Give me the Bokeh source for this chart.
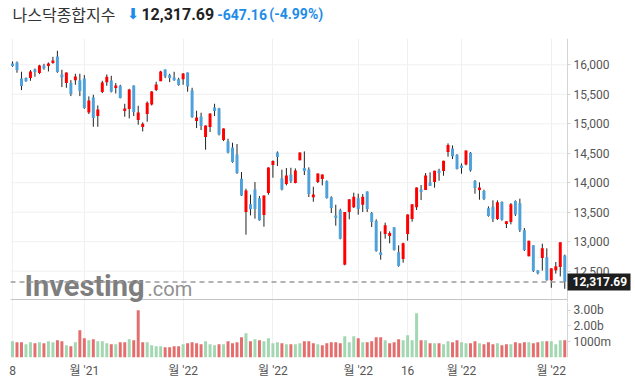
from bokeh.plotting import figure
from bokeh.layouts import column
from bokeh.models import ColumnDataSource, Range1d, FixedTicker, NumeralTickFormatter
from bokeh.core.properties import value
from bokeh.embed import file_html
from bokeh.resources import INLINE

# ---------------- data ----------------
title_text = "나스닥종합지수"
last_price_text = "12,317.69"
change_text = "-647.16"
change_pct_text = "(-4.99%)"
last_price = 12317.69

x_tick_idx = [0, 16, 38, 58, 77, 88, 100, 120]
x_tick_labels = ["8", "월 '21", "월 '22", "월 '22", "월 '22", "16", "월 '22", "월 '22"]
price_ticks = [12500, 13000, 13500, 14000, 14500, 15000, 15500, 16000]
vol_ticks = [1000, 2000, 3000]
vol_tick_labels = ["1000m", "2.00b", "3.00b"]

opens = [16023, 16040, 15769, 15774, 15774, 15921, 15859, 15989, 15978, 16029,
         16142, 15836, 15690, 15690, 15740, 15740, 15769, 15192, 15447, 15130,
         15537, 15706, 15735, 15605, 15644, 15215, 15249, 15650, 15062, 14944,
         15164, 15328, 15571, 15723, 15921, 15825, 15786, 15757, 15757, 15870,
         15565, 15045, 15125, 14774, 14944, 15277, 15260, 14723, 14701, 14599,
         14480, 14068, 13503, 13633, 13887, 13735, 13452, 13825, 14300, 14514,
         14074, 13978, 14141, 13995, 14379, 14249, 14226, 13752, 14011, 14062,
         14023, 13752, 13446, 13531, 12610, 13503, 13582, 13735, 13627, 13853,
         13486, 13350, 12819, 13130, 13096, 13243, 12819, 12706, 13130, 13384,
         13582, 13887, 13876, 14006, 14011, 14209, 14198, 14520, 14582, 14469,
         14294, 14311, 14509, 14028, 13876, 13859, 13565, 13593, 13384, 13672,
         13300, 13333, 13689, 13650, 13192, 12752, 12938, 12514, 12723, 12735,
         12345, 12514, 12571, 12766]
highs = [16057, 16057, 15882, 15786, 15910, 15938, 16000, 16017, 16040, 16136,
         16238, 15916, 15870, 15740, 15848, 15848, 15825, 15464, 15492, 15311,
         15729, 15836, 15814, 15690, 15661, 15339, 15593, 15650, 15305, 15023,
         15379, 15554, 15712, 15899, 15921, 15848, 15882, 15780, 15859, 15870,
         15610, 15221, 15187, 14972, 15175, 15339, 15271, 14921, 14746, 14678,
         14656, 14181, 13898, 13797, 14011, 13774, 13785, 14260, 14379, 14531,
         14221, 14249, 14254, 14243, 14514, 14531, 14260, 13932, 14158, 14141,
         14040, 13769, 13627, 13559, 13503, 13718, 13831, 13814, 13808, 13853,
         13503, 13379, 13175, 13322, 13175, 13243, 12938, 12983, 13463, 13633,
         13921, 13961, 14164, 14175, 14204, 14237, 14373, 14667, 14633, 14486,
         14328, 14548, 14520, 14045, 14006, 13882, 13599, 13701, 13701, 13684,
         13345, 13656, 13701, 13729, 13232, 13017, 12938, 12514, 12966, 12887,
         12548, 12655, 12989, 12780]
lows = [15966, 15865, 15571, 15712, 15729, 15797, 15842, 15916, 15887, 16017,
        15865, 15622, 15610, 15469, 15661, 15469, 15254, 15164, 14949, 14949,
        15520, 15644, 15531, 15514, 15430, 15119, 15091, 15130, 14983, 14870,
        15034, 15311, 15554, 15723, 15774, 15706, 15729, 15644, 15661, 15543,
        15100, 14927, 14893, 14560, 14859, 15130, 14802, 14706, 14497, 14339,
        14150, 13774, 13119, 13446, 13390, 13356, 13254, 13797, 14085, 14283,
        13870, 13955, 13995, 13989, 14379, 14130, 13757, 13678, 13995, 13955,
        13729, 13486, 13271, 13040, 12599, 13379, 13571, 13458, 13503, 13503,
        13249, 12830, 12695, 13051, 12972, 12848, 12576, 12644, 13017, 13339,
        13537, 13706, 13876, 13944, 13915, 14034, 14119, 14441, 14401, 14225,
        14153, 14294, 14187, 13814, 13712, 13706, 13424, 13333, 13367, 13356,
        13232, 13294, 13435, 13164, 12842, 12752, 12486, 12446, 12509, 12339,
        12218, 12458, 12410, 12201]
closes = [15978, 15910, 15639, 15723, 15887, 15876, 15989, 15938, 16023, 16074,
          15876, 15786, 15870, 15503, 15803, 15554, 15266, 15396, 15096, 15243,
          15701, 15797, 15543, 15650, 15435, 15260, 15582, 15198, 15192, 15000,
          15356, 15548, 15667, 15887, 15803, 15774, 15740, 15656, 15853, 15633,
          15113, 15108, 14961, 14972, 15175, 15215, 14819, 14921, 14514, 14350,
          14164, 13785, 13870, 13548, 13554, 13362, 13785, 14260, 14367, 14435,
          13887, 14124, 14023, 14209, 14514, 14198, 13808, 13802, 14158, 14141,
          13740, 13571, 13401, 13051, 13503, 13718, 13763, 13554, 13763, 13554,
          13333, 12842, 12774, 13277, 13147, 12859, 12588, 12972, 13463, 13633,
          13921, 13842, 14124, 13944, 14204, 14164, 14373, 14639, 14447, 14232,
          14249, 14548, 14209, 13910, 13921, 13723, 13435, 13390, 13667, 13373,
          13345, 13633, 13463, 13192, 12859, 13017, 12503, 12463, 12887, 12345,
          12548, 12582, 12989, 12317.69]
volumes_m = [1036, 972, 972, 846, 972, 909, 972, 909, 1036, 972,
             1099, 1036, 782, 719, 972, 1733, 1226, 1099, 1163, 1036,
             1036, 909, 846, 846, 972, 972, 1163, 1099, 3002, 972,
             972, 782, 719, 719, 655, 655, 719, 719, 846, 909,
             972, 909, 846, 1036, 846, 782, 846, 846, 1036, 909,
             972, 1290, 1543, 1036, 1163, 1099, 1036, 1226, 909, 972,
             909, 846, 846, 846, 909, 1036, 1036, 909, 846, 782,
             909, 972, 972, 909, 1353, 972, 1353, 1226, 972, 972,
             1036, 1290, 1290, 1099, 909, 972, 1163, 1099, 1416, 1099,
             2812, 1099, 1099, 909, 909, 909, 846, 1036, 972, 1099,
             972, 909, 909, 1036, 909, 846, 972, 846, 909, 782,
             846, 846, 972, 909, 972, 972, 909, 972, 1036, 1036,
             1036, 846, 1099, 1099]
vol_dir = ("GRRGGRGRGG" "RRGRGRRGRG" "GGRGRRGRRR" "GGGGRRRRGR" "RRRGGGRGRR"
           "RRGRGRGGGG" "RGRGGRRRGR" "RRRRGGGRGR" "RRRGRRRGGG" "GRGRGRGGRR"
           "GGRRGRRRGR" "RGRRRGRRGR" "GGGR")

# ---------------- styling / geometry ----------------
UP = "#ff0000"
DOWN = "#4ea1db"
WICK = "#222222"
VOL_UP = "#a2d7b1"
VOL_DN = "#e46d6d"
GRID = "#f0f0f0"
AXIS = "#d4d4d4"
LBL = "#555555"
BLUE_TXT = "#1d8ce8"
NUM_FONT = "Roboto, 'Noto Sans CJK KR', sans-serif"

W = 632
FRAME_L = 10          # page px of plot area left edge
AXIS_X = 567          # page px of the price/volume axis line
PX_PER_IDX = 4.49
PX_IDX0 = 12
TOP_PRICE = 38        # top of price area
SEP_Y = 299           # price / volume separator line
SPLIT = 302           # where the price canvas ends and the volume canvas starts
BOT_VOL = 357
PX_PER_PT = 0.05896   # price scale
Y_16000 = 64.3
PX_PER_BN = 15.77     # volume scale
HDR_DX = -8           # header text offset correction


def idx_at(px):
    return (px - PX_IDX0) / PX_PER_IDX


def price_at(py):
    return 16000 - (py - Y_16000) / PX_PER_PT


x_start, x_end, x_axis = idx_at(FRAME_L), idx_at(W), idx_at(AXIS_X)
xr = Range1d(x_start, x_end)

n = len(opens)
src = ColumnDataSource(dict(
    x=list(range(n)),
    high=highs, low=lows,
    top=[max(o, c) for o, c in zip(opens, closes)],
    bottom=[min(o, c) for o, c in zip(opens, closes)],
    color=[UP if c >= o else DOWN for o, c in zip(opens, closes)],
    vol=volumes_m,
    vcolor=[VOL_UP if d == "G" else VOL_DN for d in vol_dir],
))

# ---------------- header ----------------
h = figure(width=W, height=TOP_PRICE, x_range=Range1d(0, W), y_range=Range1d(TOP_PRICE, 0),
           output_backend="svg", toolbar_location=None, x_axis_location=None,
           y_axis_location=None, min_border=0)
h.outline_line_color = None
h.grid.visible = False
h.text(x=[10 + HDR_DX], y=[13.2], text=[title_text], text_font=value("Noto Sans CJK KR"),
       text_font_size="16px", text_color="#333333", text_baseline="alphabetic")
h.text(x=[126 + HDR_DX], y=[13.2], text=["⬇"], text_font=value("DejaVu Sans"),
       text_font_size="15px", text_color=BLUE_TXT, text_baseline="alphabetic")
h.text(x=[141 + HDR_DX], y=[13.2], text=[last_price_text], text_font=value("Roboto"),
       text_font_style="bold", text_font_size="16px", text_color="#222222",
       text_baseline="alphabetic")
h.text(x=[218 + HDR_DX, 271 + HDR_DX], y=[13.9, 13.9], text=[change_text, change_pct_text],
       text_font=value("Roboto"), text_font_style="bold", text_font_size="14px",
       text_color=BLUE_TXT, text_baseline="alphabetic")

# ---------------- price panel ----------------
p = figure(width=W, height=SPLIT - TOP_PRICE, x_range=xr,
           y_range=Range1d(price_at(SPLIT), price_at(TOP_PRICE)),
           output_backend="svg", toolbar_location=None,
           x_axis_location=None, y_axis_location="right",
           min_border_left=FRAME_L, min_border_right=0, min_border_top=0, min_border_bottom=0)
p.outline_line_color = None
p.ygrid.visible = False
p.xgrid.ticker = FixedTicker(ticks=x_tick_idx)
p.xgrid.grid_line_color = GRID
ya = p.yaxis[0]
ya.fixed_location = x_axis
ya.ticker = FixedTicker(ticks=price_ticks)
ya.formatter = NumeralTickFormatter(format="0,0")
ya.axis_line_color = AXIS
ya.major_tick_line_color = AXIS
ya.major_tick_out = 3
ya.major_tick_in = 0
ya.minor_tick_line_color = None
ya.major_label_standoff = 3
ya.major_label_text_font = NUM_FONT
ya.major_label_text_font_size = "12px"
ya.major_label_text_color = LBL

# horizontal grid lines, stopping at the axis
p.segment(x0=[x_start] * len(price_ticks), y0=price_ticks,
          x1=[x_axis] * len(price_ticks), y1=price_ticks,
          line_color=GRID, line_width=1, level="underlay")

# separator between price and volume areas
p.segment(x0=[x_start], y0=[price_at(SEP_Y)], x1=[x_axis], y1=[price_at(SEP_Y)],
          line_color="#c4c4c4", line_width=1.2)

# watermark
p.text(x=[idx_at(24)], y=[price_at(285.5)], text=["Investing"], text_font=value("Roboto"),
       text_font_style="bold", text_font_size="29px", text_color="#7e7e7e",
       text_baseline="alphabetic")
p.text(x=[idx_at(147)], y=[price_at(288)], text=[".com"], text_font=value("Roboto"),
       text_font_size="20px", text_color="#909090", text_baseline="alphabetic")

p.segment(x0="x", y0="high", x1="x", y1="low", source=src, line_color=WICK, line_width=1)
p.vbar(x="x", width=0.66, top="top", bottom="bottom", fill_color="color",
       line_color=None, source=src)

# last price dashed line and tag
p.segment(x0=[x_start], y0=[last_price], x1=[x_axis], y1=[last_price],
          line_color="#9a9a9a", line_dash="5 4", line_width=1.5)
tag_h = 17 / PX_PER_PT
p.hbar(y=[last_price], left=[x_axis], right=[idx_at(630)], height=tag_h,
       fill_color="#1e1e1e", line_color=None, level="overlay")
p.text(x=[idx_at(572)], y=[last_price], text=[last_price_text], text_font=value("Roboto"),
       text_font_style="bold", text_font_size="12px", text_color="white",
       text_baseline="middle", level="overlay")

# ---------------- volume panel ----------------
vol_top = (BOT_VOL - SPLIT) / PX_PER_BN * 1000
v = figure(width=W, height=BOT_VOL - SPLIT + 27, x_range=xr, y_range=Range1d(0, vol_top),
           output_backend="svg", toolbar_location=None, y_axis_location="right",
           min_border_left=FRAME_L, min_border_right=0, min_border_top=0, min_border_bottom=27)
v.outline_line_color = None
v.vbar(x="x", width=0.66, top="vol", bottom=0, fill_color="vcolor", line_color=None, source=src)

va = v.yaxis[0]
va.fixed_location = x_axis
va.ticker = FixedTicker(ticks=vol_ticks)
va.major_label_overrides = dict(zip(vol_ticks, vol_tick_labels))
va.axis_line_color = AXIS
va.major_tick_line_color = AXIS
va.major_tick_out = 3
va.major_tick_in = 0
va.minor_tick_line_color = None
va.major_label_standoff = 3
va.major_label_text_font = NUM_FONT
va.major_label_text_font_size = "12px"
va.major_label_text_color = LBL
v.ygrid.visible = False

xa = v.xaxis[0]
xa.ticker = FixedTicker(ticks=x_tick_idx)
xa.major_label_overrides = dict(zip(x_tick_idx, x_tick_labels))
xa.axis_line_color = None
xa.major_tick_line_color = None
xa.minor_tick_line_color = None
xa.major_tick_out = 0
xa.major_tick_in = 0
xa.major_label_standoff = 6
xa.major_label_text_font = NUM_FONT
xa.major_label_text_font_size = "12px"
xa.major_label_text_color = LBL
v.xgrid.grid_line_color = GRID

layout = column(h, p, v, spacing=0)
open("out.html", "w").write(file_html(layout, INLINE))
